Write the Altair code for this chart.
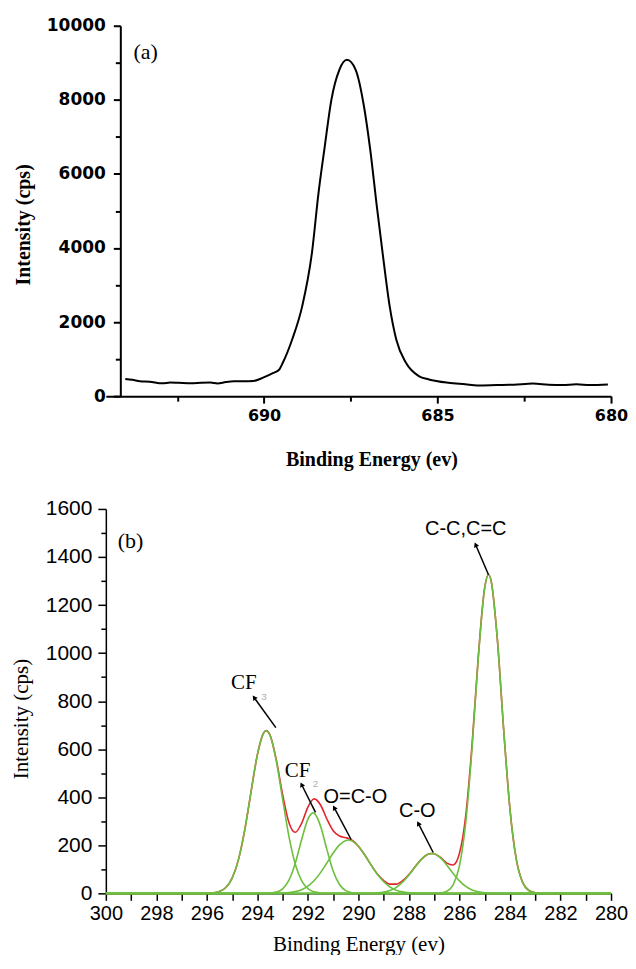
import math
import altair as alt
import pandas as pd

# ---------------- (a) F 1s spectrum ----------------
energy_a = [694.0, 693.8, 693.58, 693.3, 692.93, 692.7, 692.46, 692.1, 691.81, 691.55,
            691.34, 691.1, 690.87, 690.6, 690.31, 690.1, 689.93, 689.75, 689.56, 689.46,
            689.19, 688.9, 688.62, 688.43, 688.25, 688.06, 687.83, 687.61, 687.36, 687.12,
            686.94, 686.75, 686.56, 686.38, 686.19, 685.91, 685.54, 685.25, 684.69, 684.2,
            683.85, 683.3, 682.8, 682.25, 681.8, 681.4, 681.0, 680.6, 680.09]
intensity_a = [460, 440, 405, 390, 345, 370, 360, 345, 360, 365,
               340, 380, 400, 400, 410, 470, 540, 620, 720, 900,
               1530, 2430, 3870, 5490, 6745, 8000, 8810, 9080, 8810, 7820,
               6655, 5125, 3690, 2430, 1530, 900, 540, 450, 360, 320,
               290, 300, 310, 340, 310, 300, 320, 300, 315]

# ---------------- (b) C 1s spectrum with fitted components ----------------
energy_b = [300, 296.5, 296.25, 296.0, 295.75, 295.5, 295.25, 295.0,
            294.75, 294.5, 294.25, 294.0, 293.75, 293.65, 293.5, 293.25,
            293.0, 292.75, 292.5, 292.25, 292.0, 291.8, 291.75, 291.5,
            291.25, 291.0, 290.75, 290.5, 290.4, 290.25, 290.0, 289.75,
            289.5, 289.25, 289.0, 288.75, 288.5, 288.25, 288.0, 287.75,
            287.5, 287.25, 287.1, 287.0, 286.75, 286.5, 286.25, 286.0,
            285.75, 285.5, 285.25, 285.0, 284.85, 284.75, 284.5, 284.25,
            284.0, 283.75, 283.5, 283.25, 283.0, 282.75, 282.5, 280]
cf3 = [0, 0, 0, 0.5, 2.2, 7.9, 24.2, 63.3,
       140.3, 264.4, 423.8, 577.3, 668.2, 677, 657.5, 549.8,
       390.8, 236.1, 121.2, 52.9, 19.6, 7.9, 6.2, 1.7,
       0.4, 0, 0, 0, 0, 0, 0, 0,
       0, 0, 0, 0, 0, 0, 0, 0,
       0, 0, 0, 0, 0, 0, 0, 0,
       0, 0, 0, 0, 0, 0, 0, 0,
       0, 0, 0, 0, 0, 0, 0, 0]
cf2 = [0, 0, 0, 0, 0, 0, 0, 0,
       0, 0, 0, 0, 0.2, 0.4, 1.0, 5.0,
       18.8, 55.1, 125.7, 223.4, 309.2, 335, 333.3, 279.8,
       182.9, 93.1, 36.9, 11.4, 6.6, 2.7, 0.5, 0,
       0, 0, 0, 0, 0, 0, 0, 0,
       0, 0, 0, 0, 0, 0, 0, 0,
       0, 0, 0, 0, 0, 0, 0, 0,
       0, 0, 0, 0, 0, 0, 0, 0]
oco = [0, 0, 0, 0, 0, 0, 0, 0,
       0, 0, 0, 0, 0, 0, 0.1, 0.4,
       1.1, 3.0, 7.1, 15.3, 30.0, 48.0, 53.5, 86.3,
       126.2, 167.6, 201.7, 220.3, 222, 218.1, 195.9, 159.6,
       117.9, 79.0, 48.0, 26.5, 13.2, 6.0, 2.5, 0.9,
       0.3, 0, 0, 0, 0, 0, 0, 0,
       0, 0, 0, 0, 0, 0, 0, 0,
       0, 0, 0, 0, 0, 0, 0, 0]
co = [0, 0, 0, 0, 0, 0, 0, 0,
      0, 0, 0, 0, 0, 0, 0, 0,
      0, 0, 0, 0, 0, 0, 0, 0,
      0, 0, 0, 0, 0, 0, 0, 0.2,
      0.6, 1.9, 5.1, 12.0, 25.1, 46.4, 76.0, 110.4,
      142.3, 162.4, 166, 164.4, 147.5, 117.3, 82.7, 51.7,
      28.6, 14.1, 6.1, 2.4, 1.3, 0.8, 0.2, 0,
      0, 0, 0, 0, 0, 0, 0, 0]
cc = [0, 0, 0, 0, 0, 0, 0, 0,
      0, 0, 0, 0, 0, 0, 0, 0,
      0, 0, 0, 0, 0, 0, 0, 0,
      0, 0, 0, 0, 0, 0, 0, 0,
      0, 0, 0, 0, 0, 0, 0, 0,
      0, 0, 0.1, 0.3, 1.7, 8.6, 35.4, 114.9,
      296.5, 607.0, 986.4, 1271.9, 1326, 1301.7, 1057.2, 681.4,
      348.6, 141.5, 45.6, 11.7, 2.4, 0.4, 0, 0]
envelope = [0, 0, 0, 0.5, 2.2, 7.9, 24.2, 63.3,
            140.3, 264.4, 423.8, 577.3, 668.4, 677.4, 658.6, 555.2,
            410.7, 294.2, 254.0, 291.6, 358.8, 390.9, 393.0, 367.8,
            309.5, 260.7, 238.6, 231.7, 228.6, 220.8, 196.4, 159.8,
            118.5, 80.9, 53.1, 38.5, 38.3, 52.4, 78.5, 111.3,
            142.6, 162.4, 166.1, 164.7, 149.2, 125.9, 118.1, 166.6,
            325.1, 621.1, 992.5, 1274.3, 1327.3, 1302.5, 1057.4, 681.4,
            348.6, 141.5, 45.6, 11.7, 2.4, 0.4, 0, 0]

# annotation arrows (tail at the peak, head near the label)
arrow_tail_e = [293.27, 291.70, 290.29, 287.04, 284.85]
arrow_tail_i = [690, 337, 224, 170, 1326]
arrow_head_e = [294.13, 292.25, 290.96, 287.63, 285.36]
arrow_head_i = [815, 453, 357, 291, 1451]

serif_text = ["CF", "CF"]
serif_e = [294.54, 292.41]
serif_i = [877, 511]
sub_text = ["3", "2"]
sub_e = [293.74, 291.70]
sub_i = [819, 457]
sans_text = ["O=C-O", "C-O", "C-C,C=C"]
sans_e = [290.12, 287.67, 285.75]
sans_i = [403, 341, 1517]

panel_a = ["(a)"]
panel_a_e = [693.41]
panel_a_i = [9300]
panel_b = ["(b)"]
panel_b_e = [299.02]
panel_b_i = [1467]

# ---------------- layout constants ----------------
W_A, H_A = 506, 371       # panel (a) spans the same width; its y axis is moved inward
Y_AXIS_SHIFT_A = -14.5
W_B, H_B = 506, 385
SERIF = "Liberation Serif"
SANS = "Liberation Sans"
GREEN = "#6dbf3f"
RED = "#e3262c"

# ---------------- tables ----------------
df_a = pd.DataFrame({"energy": energy_a, "intensity": intensity_a})
df_a_lab = pd.DataFrame({"energy": panel_a_e, "intensity": panel_a_i, "text": panel_a})

comp_rows = []
for name, vals in [("CF3", cf3), ("CF2", cf2), ("O=C-O", oco), ("C-O", co), ("C-C", cc)]:
    for e, v in zip(energy_b, vals):
        comp_rows.append({"energy": e, "intensity": v, "component": name})
df_comp = pd.DataFrame(comp_rows)
df_env = pd.DataFrame({"energy": energy_b, "intensity": envelope})

sx = W_B / 20.0
sy = H_B / 1600.0
angles = []
for te, ti, he, hi in zip(arrow_tail_e, arrow_tail_i, arrow_head_e, arrow_head_i):
    dx = -(he - te) * sx
    dy = -(hi - ti) * sy
    ang = math.degrees(math.atan2(dx, -dy))
    angles.append((ang + 360) % 360)
df_arrow = pd.DataFrame({"energy": arrow_tail_e, "intensity": arrow_tail_i,
                         "energy2": arrow_head_e, "intensity2": arrow_head_i,
                         "angle": angles})
df_serif = pd.DataFrame({"energy": serif_e, "intensity": serif_i, "text": serif_text})
df_sub = pd.DataFrame({"energy": sub_e, "intensity": sub_i, "text": sub_text})
df_sans = pd.DataFrame({"energy": sans_e, "intensity": sans_i, "text": sans_text})
df_b_lab = pd.DataFrame({"energy": panel_b_e, "intensity": panel_b_i, "text": panel_b})

# ---------------- encodings ----------------
def x_a(field="energy"):
    return alt.X(f"{field}:Q",
                 scale=alt.Scale(domain=[680, 694.56], reverse=True, nice=False, zero=False),
                 axis=alt.Axis(values=[692.5, 690, 687.5, 685, 682.5, 680], format=".0f",
                               labelExpr="datum.value % 5 === 0 ? datum.label : ''",
                               tickSize={"condition": {"test": "datum.value % 5 === 0", "value": 7}, "value": 5},
                               labelFont="DejaVu Sans", labelFontWeight="bold", labelFontSize=16,
                               labelColor="black", labelPadding=4, labelOverlap=False, labelFlush=False,
                               domainColor="black", domainWidth=2, tickColor="black", tickWidth=2,
                               grid=False, title="Binding Energy (ev)", titleFont=SERIF,
                               titleFontSize=20, titleFontWeight="bold", titleColor="black",
                               titleBaseline="middle", titleY=63, titleX=266))

def y_a(field="intensity"):
    return alt.Y(f"{field}:Q",
                 scale=alt.Scale(domain=[0, 10000], nice=False, zero=False),
                 axis=alt.Axis(values=list(range(0, 10001, 1000)), format="d",
                               labelExpr="datum.value % 2000 === 0 ? datum.label : ''",
                               tickSize={"condition": {"test": "datum.value % 2000 === 0", "value": 7}, "value": 5},
                               labelFont="DejaVu Sans", labelFontWeight="bold", labelFontSize=17,
                               labelColor="black", labelPadding=8, labelOverlap=False, labelFlush=False,
                               domainColor="black", domainWidth=2, tickColor="black", tickWidth=2,
                               offset=Y_AXIS_SHIFT_A,
                               grid=False, title="Intensity (cps)", titleFont=SERIF,
                               titleFontSize=20, titleFontWeight="bold", titleColor="black",
                               titleBaseline="middle", titleAlign="center", titleX=-97, titleY=199))

def x_b(field="energy"):
    return alt.X(f"{field}:Q",
                 scale=alt.Scale(domain=[280, 300], reverse=True, nice=False, zero=False),
                 axis=alt.Axis(values=list(range(280, 301)), format="d",
                               labelExpr="datum.value % 2 === 0 ? datum.label : ''",
                               tickSize=7,
                               labelFont=SANS, labelFontSize=20, labelColor="black", labelPadding=3,
                               labelOverlap=False, labelFlush=False,
                               domainColor="black", domainWidth=1.5, tickColor="black", tickWidth=1.5,
                               grid=False, title="Binding Energy (ev)", titleFont=SERIF,
                               titleFontSize=21, titleColor="black", titleFontWeight="normal",
                               titleBaseline="middle", titleY=51))

def y_b(field="intensity"):
    return alt.Y(f"{field}:Q",
                 scale=alt.Scale(domain=[0, 1600], nice=False, zero=False),
                 axis=alt.Axis(values=list(range(0, 1601, 100)), format="d",
                               labelExpr="datum.value % 200 === 0 ? datum.label : ''",
                               tickSize={"condition": {"test": "datum.value % 200 === 0", "value": 8}, "value": 5},
                               labelFont=SANS, labelFontSize=21, labelColor="black", labelPadding=6,
                               labelOverlap=False, labelFlush=False,
                               domainColor="black", domainWidth=1.5, tickColor="black", tickWidth=1.5,
                               grid=False, title="Intensity (cps)", titleFont=SERIF,
                               titleFontSize=21, titleColor="black", titleFontWeight="normal",
                               titleBaseline="middle", titleAlign="center", titleX=-84, titleY=210))

# ---------------- panel (a) ----------------
line_a = alt.Chart(df_a).mark_line(color="black", strokeWidth=2, interpolate="monotone").encode(
    x=x_a(), y=y_a(), order=alt.Order("energy:Q", sort="descending"))
lab_a = alt.Chart(df_a_lab).mark_text(font=SERIF, fontSize=22, color="black").encode(
    x=x_a(), y=y_a(), text="text:N")
panel_top = alt.layer(line_a, lab_a).properties(width=W_A, height=H_A)

# ---------------- panel (b) ----------------
env_line = alt.Chart(df_env).mark_line(color=RED, strokeWidth=1.6, interpolate="monotone").encode(
    x=x_b(), y=y_b(), order=alt.Order("energy:Q", sort="descending"))
comp_lines = alt.Chart(df_comp).mark_line(color=GREEN, strokeWidth=1.6, interpolate="monotone").encode(
    x=x_b(), y=y_b(), detail="component:N", order=alt.Order("energy:Q", sort="descending"))
arrows = alt.Chart(df_arrow).mark_rule(color="black", strokeWidth=1.5).encode(
    x=x_b(), y=y_b(), x2=alt.X2("energy2:Q"), y2=alt.Y2("intensity2:Q"))
heads = alt.Chart(df_arrow).mark_point(shape="triangle-up", filled=True, color="black",
                                       size=30, opacity=1).encode(
    x=x_b("energy2"), y=y_b("intensity2"), angle=alt.Angle("angle:Q", scale=None))
serif_lab = alt.Chart(df_serif).mark_text(font=SERIF, fontSize=21, color="black").encode(
    x=x_b(), y=y_b(), text="text:N")
sub_lab = alt.Chart(df_sub).mark_text(font=SANS, fontSize=10, color="#b0b0b0").encode(
    x=x_b(), y=y_b(), text="text:N")
sans_lab = alt.Chart(df_sans).mark_text(font=SANS, fontSize=20, color="black").encode(
    x=x_b(), y=y_b(), text="text:N")
lab_b = alt.Chart(df_b_lab).mark_text(font=SERIF, fontSize=22, color="black").encode(
    x=x_b(), y=y_b(), text="text:N")
panel_bottom = alt.layer(env_line, comp_lines, arrows, heads, serif_lab, sub_lab, sans_lab,
                         lab_b).properties(width=W_B, height=H_B)

chart = alt.vconcat(panel_top, panel_bottom, spacing=29).properties(
    padding={"left": 3, "top": 8, "right": 0, "bottom": 0}
).configure_view(stroke=None).configure_axis(grid=False)

chart.save("out.html", embed_options={"renderer": "svg", "actions": False})
